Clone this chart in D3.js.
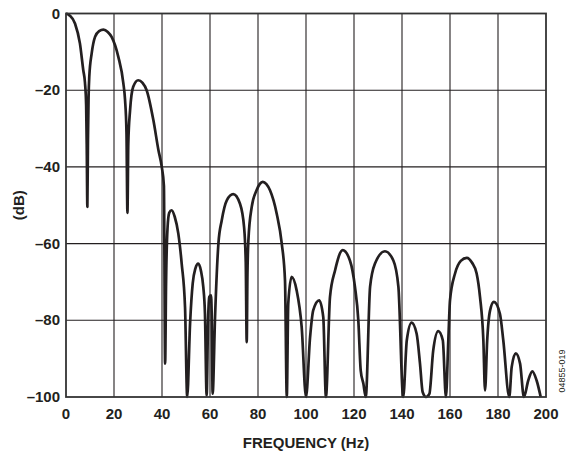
<!DOCTYPE html>
<meta charset="utf-8">
<head>
  <style>
    body { margin: 0; background: #fff; }
    .tick-label { font: bold 15px "Liberation Sans", Arial, sans-serif; fill: #231f20; }
    .axis-title { font: bold 15px "Liberation Sans", Arial, sans-serif; fill: #231f20; }
  </style>
</head>
<body>
<div id="my_dataviz"></div>
<script src="https://d3js.org/d3.v7.min.js"></script>
<script>

// frequency (Hz) and response (dB)
var freq = [0, 1.5, 3.75, 5.8, 7.2, 7.9, 8.4, 8.65, 8.9, 9.15, 9.4, 9.7, 10.7, 12.1, 13.8, 15.6, 17.4, 19, 21.8, 23.9, 24.6, 25.2, 25.6, 25.95,
  26.7, 28, 30.1, 31.9, 33.6, 36.4, 38.5, 39.9, 40.8, 41.3, 41.7, 42.3, 43, 44, 45.3, 46.8, 48.2, 49.6, 50.5,
  51.7, 52.8, 53.9, 55.1, 56.2, 57.2, 57.9, 58.6, 59.2, 59.7, 60.4, 60.7, 61.1, 62.1, 63.5, 64.9, 67, 69.7,
  72.5, 74.2, 74.9, 75.3, 75.6, 76, 77.4, 79.4, 80.7, 82, 83.5, 85, 87.8, 89.9, 91.25, 92, 92.6, 94, 96.1,
  98.2, 100, 101.7, 103, 105.5, 107.2, 108.3, 110, 112.1, 115.3, 118.3, 120.4, 121.8, 122.8, 123.9, 124.9,
  126.7, 128.75, 132.9, 136.4, 138.5, 140.5, 142, 144, 146.1, 147.5, 148.6, 150, 151.4, 153, 155.1, 157,
  158.3, 159.3, 160, 162.1, 164.5, 167, 169.2, 171.1, 172.5, 173.9, 174.6, 175.5, 176.7, 178.3, 180.8,
  182.2, 184.7, 185.7, 187.4, 189.2, 190.8, 192.6, 194.3, 196.1, 197.8];
var dB = [0, -0.5, -2.6, -7.8, -14.8, -18, -24, -35, -50.4, -33, -22, -16.5, -10.4, -6.1, -4.6, -4.2, -4.8, -6.1, -11.3, -18.2, -22.5, -31, -52, -34,
  -25.2, -19.1, -17.4, -18.1, -20, -27.8, -35.6, -40, -45, -91.3, -70, -56, -52, -51.3, -53, -57.4, -65.2, -76.6, -100,
  -80.8, -70.4, -66.5, -65.2, -67, -71.3, -78.3, -99.6, -80, -73.9, -73.5, -78, -99.1, -79.2, -60, -53.9, -48.7, -47.1,
  -49.6, -55.7, -65, -85.7, -68, -59.1, -50.4, -46.1, -44.5, -43.9, -44.5, -46.1, -52.2, -60, -69.6, -100, -75.7, -68.7, -72.2,
  -81.8, -100, -84.4, -77.4, -74.8, -79.2, -100, -73.9, -67, -61.7, -64.4, -71.3, -80, -93.1, -96.5, -100,
  -71.3, -65.2, -62, -64.4, -71.3, -100, -85.2, -80.6, -83.5, -91.3, -98.7, -100, -99.2, -87.9, -82.8, -85.2,
  -100, -85.2, -74.8, -67.8, -64.5, -63.7, -65, -67.8, -73.9, -85.2, -98.3, -85.2, -77.4, -75.2, -78.3,
  -85.2, -100, -92.2, -88.6, -91.3, -100, -95.7, -93.3, -95.7, -100];

var xTicks = [0, 20, 40, 60, 80, 100, 120, 140, 160, 180, 200];
var yTicks = [0, -20, -40, -60, -80, -100];
var yTickLabels = ["0", "\u201320", "\u201340", "\u201360", "\u201380", "\u2013100"];

var data = freq.map(function(f, i) { return { f: f, v: dB[i] }; });

var W = 570, H = 454;
var plotLeft = 66, plotRight = 546, plotTop = 13.5, plotBottom = 397;

var svg = d3.select("#my_dataviz")
  .append("svg")
    .attr("width", W)
    .attr("height", H);

var x = d3.scaleLinear().domain([0, 200]).range([plotLeft, plotRight]);
var y = d3.scaleLinear().domain([-100, 0]).range([plotBottom, plotTop]);

// grid
svg.append("g")
  .selectAll("line")
  .data(xTicks.slice(1, -1))
  .enter().append("line")
    .attr("x1", function(d) { return x(d); })
    .attr("x2", function(d) { return x(d); })
    .attr("y1", plotTop).attr("y2", plotBottom)
    .style("stroke", "#231f20").style("stroke-width", 1.1);

svg.append("g")
  .selectAll("line")
  .data(yTicks.slice(1, -1))
  .enter().append("line")
    .attr("x1", plotLeft).attr("x2", plotRight)
    .attr("y1", function(d) { return y(d); })
    .attr("y2", function(d) { return y(d); })
    .style("stroke", "#231f20").style("stroke-width", 1.1);

// curve
svg.append("path")
  .datum(data)
  .attr("d", d3.line()
    .x(function(d) { return x(d.f); })
    .y(function(d) { return y(d.v); })
    .curve(d3.curveMonotoneX))
  .style("fill", "none")
  .style("stroke", "#231f20")
  .style("stroke-width", 2.7)
  .style("stroke-linejoin", "round");

// frame
svg.append("rect")
  .attr("x", plotLeft).attr("y", plotTop)
  .attr("width", plotRight - plotLeft).attr("height", plotBottom - plotTop)
  .style("fill", "none")
  .style("stroke", "#333")
  .style("stroke-width", 1.8);

// tick labels
svg.append("g")
  .selectAll("text")
  .data(xTicks)
  .enter().append("text")
    .attr("class", "tick-label")
    .attr("x", function(d) { return x(d); })
    .attr("y", 419)
    .attr("text-anchor", "middle")
    .text(function(d) { return d; });

svg.append("g")
  .selectAll("text")
  .data(yTicks)
  .enter().append("text")
    .attr("class", "tick-label")
    .attr("x", 60)
    .attr("y", function(d) { return y(d) + 5; })
    .attr("text-anchor", "end")
    .text(function(d, i) { return yTickLabels[i]; });

// axis titles
svg.append("text")
  .attr("class", "axis-title")
  .attr("x", x(100))
  .attr("y", 448)
  .attr("text-anchor", "middle")
  .text("FREQUENCY (Hz)");

svg.append("text")
  .attr("class", "axis-title")
  .attr("transform", "translate(24," + y(-50) + ") rotate(-90)")
  .attr("text-anchor", "middle")
  .text("(dB)");

svg.append("text")
  .attr("transform", "translate(565," + 371 + ") rotate(-90)")
  .attr("text-anchor", "middle")
  .style("font", "9px 'Liberation Sans', Arial, sans-serif")
  .style("fill", "#231f20")
  .text("04855-019");

</script>
</body>
